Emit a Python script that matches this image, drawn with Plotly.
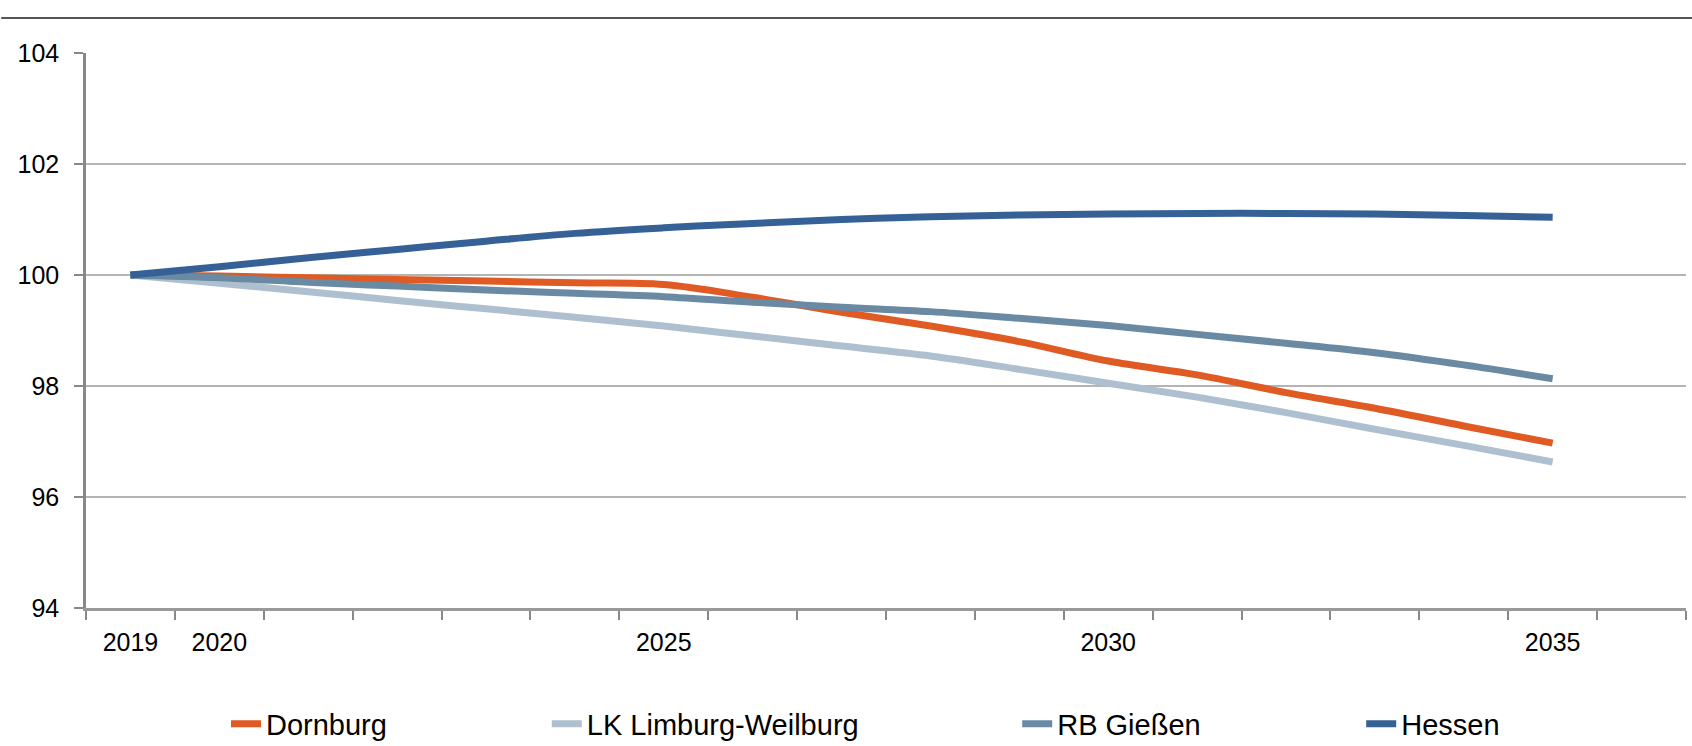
import plotly.graph_objects as go

years = list(range(2019, 2036))
dornburg = [100.0, 99.98, 99.95, 99.92, 99.89, 99.86, 99.83, 99.6, 99.33, 99.08,
            98.8, 98.45, 98.2, 97.88, 97.6, 97.28, 96.97]
limburg_weilburg = [100.0, 99.85, 99.7, 99.54, 99.39, 99.24, 99.08, 98.9, 98.72, 98.54,
                    98.3, 98.05, 97.8, 97.52, 97.22, 96.93, 96.63]
rb_giessen = [100.0, 99.95, 99.87, 99.8, 99.73, 99.67, 99.61, 99.51, 99.42, 99.34,
              99.22, 99.09, 98.93, 98.77, 98.6, 98.38, 98.13]
hessen = [100.0, 100.15, 100.31, 100.46, 100.61, 100.75, 100.85, 100.93, 101.0, 101.05,
          101.08, 101.1, 101.11, 101.11, 101.1, 101.07, 101.04]

label_years = [2019, 2020, 2025, 2030, 2035]

FONT = "Liberation Sans, Arial, sans-serif"

series = [
    ("Dornburg", dornburg, "#E05A24", "legend"),
    ("LK Limburg-Weilburg", limburg_weilburg, "#AEC0CF", "legend2"),
    ("RB Gießen", rb_giessen, "#6A8AA3", "legend3"),
    ("Hessen", hessen, "#356196", "legend4"),
]

fig = go.Figure()
for name, vals, color, leg in series:
    fig.add_trace(go.Scatter(
        x=years, y=vals, name=name, mode="lines",
        line=dict(color=color, width=7, shape="spline", smoothing=1.0),
        legend=leg, showlegend=True,
    ))

# one legend per entry so each can sit where the original has it
leg_x = [0.0875, 0.288, 0.582, 0.797]
leg_common = dict(
    orientation="h", yref="container", yanchor="middle", y=0.0295, xanchor="left",
    font=dict(family=FONT, size=29, color="#000"),
    bgcolor="rgba(0,0,0,0)", borderwidth=0,
)
legends = {}
for i, lx in enumerate(leg_x):
    key = "legend" if i == 0 else f"legend{i + 1}"
    legends[key] = dict(x=lx, **leg_common)

fig.update_layout(
    width=1692, height=746,
    showlegend=True,
    margin=dict(l=86, r=6, t=53, b=138),
    plot_bgcolor="white", paper_bgcolor="white",
    font=dict(family=FONT, size=25, color="#000"),
    xaxis=dict(
        range=[2018.5, 2036.5],
        tickmode="array", tickvals=label_years,
        ticks="", showgrid=False, zeroline=False,
        showline=True, linecolor="#999", linewidth=3,
        tickfont=dict(family=FONT, size=25),
        ticklabelstandoff=10,
        minor=dict(ticks="outside", tick0=2018.5, dtick=1, ticklen=9,
                   tickwidth=2, tickcolor="#888", showgrid=False),
    ),
    yaxis=dict(
        range=[94, 104], dtick=2,
        ticks="outside", ticklen=9, tickwidth=2, tickcolor="#888",
        showgrid=True, gridcolor="#b4b4b4", gridwidth=2,
        showline=True, linecolor="#888", linewidth=2.5,
        zeroline=False,
        tickfont=dict(family=FONT, size=25),
        ticklabelstandoff=10,
    ),
    shapes=[dict(type="line", xref="paper", yref="paper",
                 x0=-0.053, x1=1.005, y0=1.063, y1=1.063,
                 line=dict(color="#555", width=2))],
    **legends,
)

fig.write_html("out.html", config={"displayModeBar": False},
               post_script="document.body.style.margin='0';")
